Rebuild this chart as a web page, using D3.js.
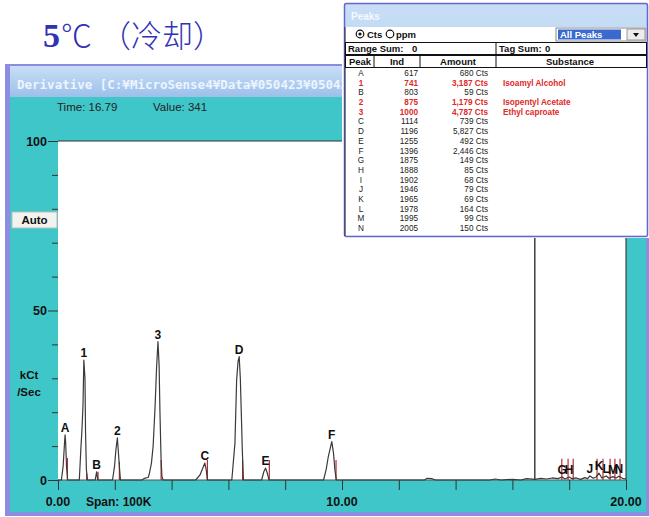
<!DOCTYPE html>
<html><head><meta charset="utf-8">
<script src="https://cdn.jsdelivr.net/npm/d3@7"></script>
<style>body{margin:0;background:#fff} svg{display:block}</style>
</head><body>
<svg id="c" width="649" height="517"></svg>
<script>
// ---- peak table ----
const tablePeaks = ["A","1","B","2","3","C","D","E","F","G","H","I","J","K","L","M","N"];
const tableInd = [617,741,803,875,1000,1114,1196,1255,1396,1875,1888,1902,1946,1965,1978,1995,2005];
const tableAmount = [680,3187,59,1179,4787,739,5827,492,2446,149,85,68,79,69,164,99,150];
const tableSubstance = ["","Isoamyl Alcohol","","Isopentyl Acetate","Ethyl caproate","","","","","","","","","","","",""];

// ---- derivative trace: [time (min), kCt/sec] ----
const trace = [
  [0,0],
  [0.12,0],[0.18,4],[0.23,11],[0.25,13.3],[0.27,11],[0.30,4],[0.34,0],
  [0.75,0],[0.81,10],[0.84,14.2],[0.88,22],[0.91,35.4],[0.95,30],[0.97,14],[1.0,3],[1.04,0],
  [1.31,0],[1.36,2.4],[1.40,0],
  [1.92,0],[1.99,4],[2.04,9],[2.09,12.4],[2.12,9],[2.17,3],[2.20,0],
  [2.95,0],[3.05,0.5],[3.18,0.8],
  [3.22,2],[3.29,5],[3.35,10],[3.42,22],[3.47,33],[3.52,40.8],[3.56,34],[3.59,20],[3.63,6],[3.66,1],[3.70,0],
  [4.85,0],[5.0,1.5],[5.12,4],[5.17,5.0],[5.22,3],[5.26,0],
  [6.12,0],[6.23,10.8],[6.29,29.5],[6.34,35],[6.38,36.4],[6.42,30],[6.46,18],[6.49,8.8],[6.53,0],
  [7.17,0],[7.25,2.5],[7.31,3.5],[7.37,2],[7.43,0],
  [9.35,0],[9.44,3],[9.52,7],[9.64,11.3],[9.70,8],[9.75,3],[9.80,0],
  [12.9,0],[13.0,0.5],[13.15,0.4],[13.3,0],[15.2,0],[15.4,0.3],[15.6,0],[16.0,0.2],[16.3,0],
  [16.5,0.4],[16.8,0.2],[17.0,0.5],[17.2,0.3],[17.4,0.6],[17.6,0.4],[17.75,0.9],[17.85,0.3],
  [18.0,0.9],[18.1,0.4],[18.25,0.6],[18.4,0.2],[18.55,0.7],[18.65,0.4],[18.73,1.2],[18.85,0.5],
  [18.95,0.9],[19.05,2.0],[19.15,0.6],[19.3,1.2],[19.4,0.5],[19.54,1.0],[19.65,0.6],[19.75,1.1],
  [19.88,0.5],[20,0.3]
];

// ---- labelled peaks on the trace ----
const peakNames  = ["A","1","B","2","3","C","D","E","F","G","H","J","K","L","M","N"];
const peakTimes  = [0.25,0.91,1.36,2.09,3.52,5.17,6.38,7.31,9.64,17.75,18.0,18.73,19.05,19.3,19.54,19.75];
const peakValues = [13.3,35.4,2.4,12.4,40.8,5.0,36.4,3.5,11.3,0.9,0.9,1.2,2.0,1.2,1.0,1.1];

// ---- integration end markers ----
const markerTimes = [0.33,1.01,1.41,2.16,3.63,5.26,6.50,7.44,9.79,17.74,17.96,18.14,18.98,19.19,19.44,19.61,19.79];
const markerTops  = [6.5,2,2.4,5.4,5.9,5.9,5.9,5.9,5.9,6.3,6.3,6.3,6.3,6.3,6.3,6.3,6.3];

// ---- axes ----
const xTicks = [0,2,4,6,8,10,12,14,16,18,20];
const xLabels = [0,10,20];
const yTicks = [0,10,20,30,40,50,60,70,80,90,100];
const yLabels = [0,50,100];
const cursorTime = 16.79, cursorValue = 341;

const svg = d3.select("#c");
const teal = "#3fc6c9";
const frame = "#8c8ce0";
const defs = svg.append("defs");
const g1 = defs.append("linearGradient").attr("id","tb").attr("x1",0).attr("y1",0).attr("x2",0).attr("y2",1);
g1.append("stop").attr("offset","0%").attr("stop-color","#c8def6");
g1.append("stop").attr("offset","100%").attr("stop-color","#9cc0ea");

// slide heading
const headColor = "#3232b4";
svg.append("text").attr("x",43).attr("y",47).attr("fill",headColor)
  .attr("font-family","Liberation Serif").attr("font-weight","bold").attr("font-size",34).text("5");
svg.append("text").attr("x",61).attr("y",47).attr("fill",headColor)
  .attr("font-family","Noto Sans CJK SC").attr("font-weight",300).attr("font-size",31).text("℃");
svg.append("text").attr("x",100).attr("y",47).attr("fill",headColor)
  .attr("font-family","Noto Sans CJK SC").attr("font-weight",300).attr("font-size",31).text("（冷却）");

// ---- main window ----
svg.append("rect").attr("x",5).attr("y",64).attr("width",644).attr("height",452).attr("fill",frame);
svg.append("rect").attr("x",10).attr("y",66).attr("width",636).attr("height",31).attr("fill","url(#tb)");
svg.append("rect").attr("x",10).attr("y",97).attr("width",636).attr("height",415).attr("fill",teal);
svg.append("text").attr("x",17).attr("y",89)
  .attr("font-family","DejaVu Sans Mono").attr("font-weight","bold").attr("font-size",12.5)
  .attr("fill","#eef4ff").text("Derivative [C:¥MicroSense4¥Data¥050423¥050423-05.dat]");

const info = svg.append("g").attr("font-family","Liberation Sans").attr("font-size",11.5).attr("fill","#222");
info.append("text").attr("x",57).attr("y",111).text("Time:  " + cursorTime.toFixed(2));
info.append("text").attr("x",153).attr("y",111).text("Value:  " + cursorValue);

const x = d3.scaleLinear().domain([0,20]).range([58,626]);
const y = d3.scaleLinear().domain([0,100]).range([480,141]);

svg.append("rect").attr("x",x(0)).attr("y",y(100)).attr("width",x(20)-x(0)).attr("height",y(0)-y(100))
  .attr("fill","#fff");
svg.append("line").attr("x1",x(0)).attr("x2",x(20)).attr("y1",y(100)).attr("y2",y(100)).attr("stroke","#333");
svg.append("line").attr("x1",x(20)).attr("x2",x(20)).attr("y1",y(100)).attr("y2",y(0)).attr("stroke","#222");

// "Auto" button
svg.append("rect").attr("x",12).attr("y",212).attr("width",45).attr("height",16).attr("fill","#f2f2ee")
  .attr("stroke","#bbb");
svg.append("text").attr("x",34.5).attr("y",224).attr("text-anchor","middle").attr("font-family","Liberation Sans")
  .attr("font-weight","bold").attr("font-size",11.5).attr("fill","#111").text("Auto");

// y axis
const yAxis = svg.append("g").attr("transform",`translate(${x(0)},0)`)
  .call(d3.axisLeft(y).tickValues(yTicks).tickSize(6).tickFormat(""));
yAxis.select(".domain").remove();
yAxis.selectAll(".tick line").attr("stroke","#333")
  .attr("x2", d => yLabels.includes(d) ? -10 : -6);
svg.append("g").selectAll("text").data(yLabels).join("text")
  .attr("x",47).attr("y",d => y(d)+4.5).attr("text-anchor","end")
  .attr("font-family","Liberation Sans").attr("font-weight","bold").attr("font-size",12.5).attr("fill","#111")
  .text(d => d);
const yt = svg.append("g").attr("font-family","Liberation Sans").attr("font-weight","bold").attr("font-size",11.5)
  .attr("fill","#111").attr("text-anchor","middle");
yt.append("text").attr("x",29).attr("y",379).text("kCt");
yt.append("text").attr("x",29).attr("y",396).text("/Sec");

// x axis
const xAxis = svg.append("g").attr("transform",`translate(0,${y(0)})`)
  .call(d3.axisBottom(x).tickValues(xTicks).tickSize(10).tickFormat(""));
xAxis.select(".domain").attr("stroke","#555").attr("d",`M${x(0)},0H${x(20)}`);
xAxis.selectAll(".tick line").attr("stroke","#333");
svg.append("g").selectAll("text").data(xLabels).join("text")
  .attr("x",d => x(d)).attr("y",506).attr("text-anchor","middle")
  .attr("font-family","Liberation Sans").attr("font-weight","bold").attr("font-size",12.5).attr("fill","#111")
  .text(d => d.toFixed(2));
svg.append("text").attr("x",86).attr("y",506).attr("font-family","Liberation Sans").attr("font-weight","bold")
  .attr("font-size",12).attr("fill","#111").text("Span: 100K");

// cursor
svg.append("line").attr("x1",x(cursorTime)).attr("x2",x(cursorTime)).attr("y1",y(100)).attr("y2",y(0))
  .attr("stroke","#111").attr("stroke-width",1.2);

// integration markers
svg.append("g").selectAll("line").data(markerTimes).join("line")
  .attr("x1",d => x(d)).attr("x2",d => x(d)).attr("y1",y(0)).attr("y2",(d,i) => y(markerTops[i]))
  .attr("stroke","#b01c22").attr("stroke-width",1.1);

// trace
svg.append("path").datum(trace)
  .attr("d", d3.line().x(d => x(d[0])).y(d => y(d[1])))
  .attr("fill","none").attr("stroke","#3a3a3a").attr("stroke-width",1.2).attr("stroke-linejoin","round");

// peak labels
svg.append("g").selectAll("text").data(peakNames).join("text")
  .attr("x",(d,i) => x(peakTimes[i])).attr("y",(d,i) => y(peakValues[i]) - 3)
  .attr("text-anchor","middle").attr("font-family","Liberation Sans").attr("font-weight","bold")
  .attr("font-size",12).attr("fill","#111").text(d => d);

// ---- peaks panel ----
const P = svg.append("g");
P.append("rect").attr("x",342).attr("y",1).attr("width",307).attr("height",237).attr("fill","#fff");
P.append("rect").attr("x",344.5).attr("y",3.5).attr("width",303).attr("height",233).attr("rx",2)
  .attr("fill","url(#tb)").attr("stroke","#6464d4").attr("stroke-width",1.5);
P.append("text").attr("x",351).attr("y",20).attr("font-family","Liberation Sans").attr("font-weight","bold")
  .attr("font-size",10).attr("fill","#f4f8ff").text("Peaks");
P.append("rect").attr("x",345.5).attr("y",27).attr("width",301).attr("height",208.5).attr("fill","#fff");
P.append("line").attr("x1",345).attr("x2",345).attr("y1",27).attr("y2",236).attr("stroke","#333");

const bold9 = s => s.attr("font-family","Liberation Sans").attr("font-weight","bold").attr("font-size",9.5).attr("fill","#111");
// radio buttons
P.append("circle").attr("cx",360).attr("cy",34).attr("r",3.8).attr("fill","#fff").attr("stroke","#111").attr("stroke-width",1.2);
P.append("circle").attr("cx",360).attr("cy",34).attr("r",1.6).attr("fill","#111");
P.append("text").attr("x",367).attr("y",37.5).call(bold9).text("Cts");
P.append("circle").attr("cx",390).attr("cy",34).attr("r",3.8).attr("fill","#fff").attr("stroke","#111").attr("stroke-width",1.2);
P.append("text").attr("x",396).attr("y",37.5).call(bold9).text("ppm");
// dropdown
P.append("rect").attr("x",556).attr("y",28).attr("width",90).attr("height",13).attr("fill","#fff").attr("stroke","#888");
P.append("rect").attr("x",558).attr("y",29.5).attr("width",63).attr("height",10).attr("fill","#3a6ad0");
P.append("text").attr("x",560).attr("y",37.5).call(bold9).attr("fill","#fff").text("All Peaks");
P.append("rect").attr("x",627).attr("y",29).attr("width",18).attr("height",11).attr("fill","#ececec").attr("stroke","#999");
P.append("path").attr("d","M633,33L639,33L636,37Z").attr("fill","#111");
// sum row and header
P.append("rect").attr("x",345.5).attr("y",42.5).attr("width",301).attr("height",12).attr("fill","none").attr("stroke","#111");
P.append("line").attr("x1",496).attr("x2",496).attr("y1",42.5).attr("y2",54.5).attr("stroke","#111");
P.append("text").attr("x",348).attr("y",51.5).call(bold9).text("Range Sum:");
P.append("text").attr("x",412).attr("y",51.5).call(bold9).text("0");
P.append("text").attr("x",499).attr("y",51.5).call(bold9).text("Tag Sum:");
P.append("text").attr("x",545).attr("y",51.5).call(bold9).text("0");
P.append("rect").attr("x",345.5).attr("y",55.5).attr("width",301).attr("height",12).attr("fill","none").attr("stroke","#111");
[374,420,496].forEach(v => P.append("line").attr("x1",v).attr("x2",v).attr("y1",55.5).attr("y2",67.5).attr("stroke","#111"));
[["Peak",360],["Ind",397],["Amount",458],["Substance",570]].forEach(([t,cx]) =>
  P.append("text").attr("x",cx).attr("y",64.5).attr("text-anchor","middle").call(bold9).text(t));

// table rows
const rowY = d3.scaleLinear().domain([0,16]).range([73,228]);
const hot = i => tableSubstance[i] !== "";
const rows = P.append("g").attr("font-family","Liberation Sans").attr("font-size",8.2);
tablePeaks.forEach((p,i) => {
  const col = hot(i) ? "#e02828" : "#222";
  const fw = hot(i) ? "bold" : "normal";
  const yy = rowY(i) + 3;
  rows.append("text").attr("x",361).attr("y",yy).attr("text-anchor","middle").attr("fill",col).attr("font-weight",fw).text(p);
  rows.append("text").attr("x",418).attr("y",yy).attr("text-anchor","end").attr("fill",col).attr("font-weight",fw).text(tableInd[i]);
  rows.append("text").attr("x",488).attr("y",yy).attr("text-anchor","end").attr("fill",col).attr("font-weight",fw)
    .text(d3.format(",")(tableAmount[i]) + " Cts");
  if (hot(i)) rows.append("text").attr("x",503).attr("y",yy).attr("fill",col).attr("font-weight",fw).text(tableSubstance[i]);
});
</script>
</body></html>
